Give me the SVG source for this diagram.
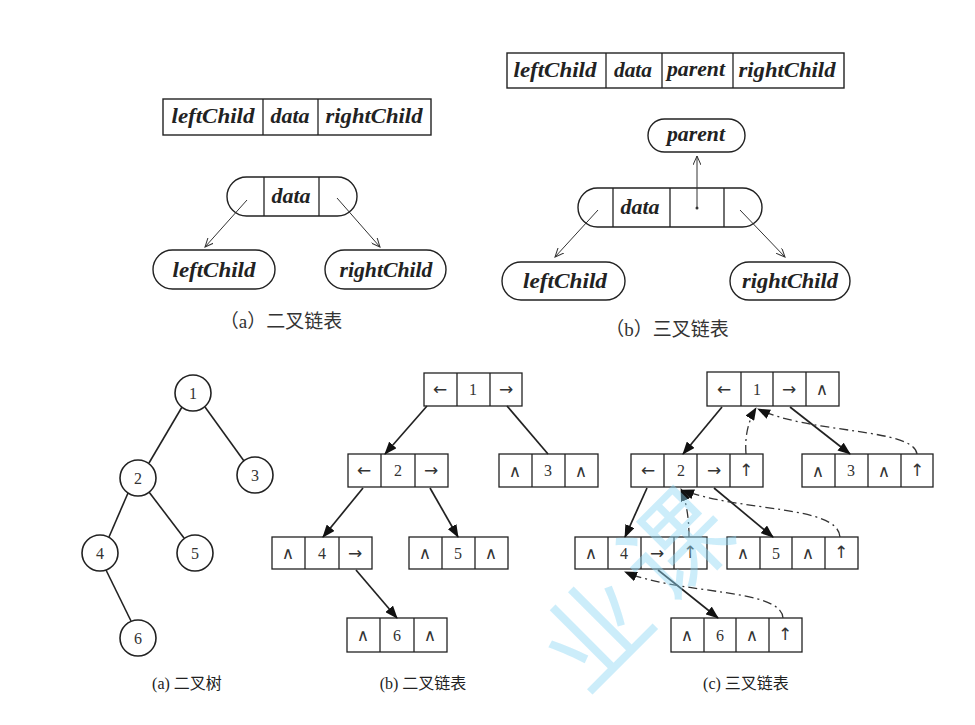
<svg xmlns="http://www.w3.org/2000/svg" width="975" height="725" viewBox="0 0 975 725">
<style>
.bx{fill:#fff;stroke:#222;stroke-width:1.4}
.dv{stroke:#222;stroke-width:1.3}
.it{font-family:"Liberation Serif",serif;font-style:italic;font-weight:bold;font-size:21px;fill:#222;text-anchor:middle}
.cap{font-family:"Liberation Serif","Noto Sans CJK SC",serif;font-size:19px;fill:#333;text-anchor:middle}
.cap2{font-family:"Liberation Serif","Noto Sans CJK SC",serif;font-size:16px;fill:#222;text-anchor:middle}
.cl{fill:#fff;stroke:#222;stroke-width:1.3}
.ct{font-family:"Liberation Serif","DejaVu Sans",serif;font-size:16px;fill:#333;text-anchor:middle}
.sy{font-family:"DejaVu Sans",sans-serif;font-size:17px;fill:#333;text-anchor:middle}
.thin{stroke:#333;stroke-width:1;fill:none}
.ln{stroke:#222;stroke-width:1.7;fill:none}
.dd{stroke:#333;stroke-width:1.3;fill:none;stroke-dasharray:9 4 2 4}
.tr{stroke:#222;stroke-width:1.6;fill:none}
.wm{font-family:"Noto Sans CJK SC",sans-serif;font-size:105px;fill:#8fd6f5;fill-opacity:0.45;text-anchor:middle}
</style>
<defs>
<marker id="oa" markerWidth="10" markerHeight="8" refX="9" refY="4" orient="auto" markerUnits="userSpaceOnUse">
<path d="M0,0 L9,4 L0,8" fill="none" stroke="#333" stroke-width="1"/>
</marker>
<marker id="fa" markerWidth="13" markerHeight="10" refX="12" refY="5" orient="auto" markerUnits="userSpaceOnUse">
<path d="M0,0 L13,5 L0,10 z" fill="#111"/>
</marker>
</defs>

<!-- (a) binary linked node structure -->
<g id="rec-a">
<rect class="bx" x="163" y="99" width="268" height="36"/>
<line class="dv" x1="263" y1="99" x2="263" y2="135"/>
<line class="dv" x1="318" y1="99" x2="318" y2="135"/>
<text class="it" x="213" y="123" textLength="83" lengthAdjust="spacingAndGlyphs">leftChild</text>
<text class="it" x="290" y="123" textLength="39" lengthAdjust="spacingAndGlyphs">data</text>
<text class="it" x="374" y="123" textLength="97" lengthAdjust="spacingAndGlyphs">rightChild</text>
</g>
<g id="node-a">
<rect class="bx" x="227" y="177" width="130" height="39" rx="19.5"/>
<line class="dv" x1="264" y1="177" x2="264" y2="216"/>
<line class="dv" x1="319" y1="177" x2="319" y2="216"/>
<text class="it" x="291" y="203" textLength="39" lengthAdjust="spacingAndGlyphs">data</text>
</g>
<g id="lc-a">
<rect class="bx" x="153" y="250" width="122" height="39" rx="19.5"/>
<text class="it" x="214" y="277" textLength="83" lengthAdjust="spacingAndGlyphs">leftChild</text>
</g>
<g id="rc-a">
<rect class="bx" x="325" y="250" width="121" height="39" rx="19.5"/>
<text class="it" x="386" y="277" textLength="93" lengthAdjust="spacingAndGlyphs">rightChild</text>
</g>
<text class="cap" x="281" y="328">（a）二叉链表</text>

<!-- (b) trinary linked node structure -->
<g id="rec-b">
<rect class="bx" x="507" y="53" width="337" height="35"/>
<line class="dv" x1="606" y1="53" x2="606" y2="88"/>
<line class="dv" x1="662" y1="53" x2="662" y2="88"/>
<line class="dv" x1="733" y1="53" x2="733" y2="88"/>
<text class="it" x="555" y="77" textLength="83" lengthAdjust="spacingAndGlyphs">leftChild</text>
<text class="it" x="633" y="77" textLength="38" lengthAdjust="spacingAndGlyphs">data</text>
<text class="it" x="696" y="76" textLength="58" lengthAdjust="spacingAndGlyphs">parent</text>
<text class="it" x="787" y="77" textLength="97" lengthAdjust="spacingAndGlyphs">rightChild</text>
</g>
<g id="parent-b">
<rect class="bx" x="648" y="119" width="97" height="33" rx="16.5"/>
<text class="it" x="696" y="141" textLength="58" lengthAdjust="spacingAndGlyphs">parent</text>
</g>
<g id="node-b">
<rect class="bx" x="578" y="188" width="184" height="39" rx="19.5"/>
<line class="dv" x1="613" y1="188" x2="613" y2="227"/>
<line class="dv" x1="670" y1="188" x2="670" y2="227"/>
<line class="dv" x1="724" y1="188" x2="724" y2="227"/>
<text class="it" x="640" y="214" textLength="39" lengthAdjust="spacingAndGlyphs">data</text>
<circle cx="697" cy="208" r="1.5" fill="#333"/>
</g>
<g id="lc-b">
<rect class="bx" x="502" y="262" width="123" height="38" rx="19"/>
<text class="it" x="565" y="288" textLength="84" lengthAdjust="spacingAndGlyphs">leftChild</text>
</g>
<g id="rc-b">
<rect class="bx" x="730" y="262" width="120" height="38" rx="19"/>
<text class="it" x="790" y="288" textLength="96" lengthAdjust="spacingAndGlyphs">rightChild</text>
</g>
<text class="cap" x="667" y="336">（b）三叉链表</text>

<g id="connectors-top">
<line class="thin" x1="247" y1="200" x2="205" y2="247" marker-end="url(#oa)"/>
<line class="thin" x1="337" y1="198" x2="380" y2="247" marker-end="url(#oa)"/>
<line class="thin" x1="697" y1="208" x2="697" y2="156" marker-end="url(#oa)"/>
<line class="thin" x1="598" y1="210" x2="555" y2="257" marker-end="url(#oa)"/>
<line class="thin" x1="740" y1="210" x2="785" y2="257" marker-end="url(#oa)"/>
</g>

<!-- (a) binary tree -->
<g id="tree-edges">
<line class="tr" x1="182" y1="407" x2="149" y2="463"/>
<line class="tr" x1="205" y1="407" x2="244" y2="461"/>
<line class="tr" x1="128" y1="493" x2="109" y2="537"/>
<line class="tr" x1="149" y1="492" x2="184" y2="538"/>
<line class="tr" x1="106" y1="570" x2="131" y2="621"/>
</g>
<g id="t1"><circle class="tr" cx="193" cy="393" r="18" fill="#fff"/><text class="ct" x="193" y="399">1</text></g>
<g id="t2"><circle class="tr" cx="138" cy="478" r="18" fill="#fff"/><text class="ct" x="138" y="484">2</text></g>
<g id="t3"><circle class="tr" cx="255" cy="475" r="18" fill="#fff"/><text class="ct" x="255" y="481">3</text></g>
<g id="t4"><circle class="tr" cx="100" cy="553" r="18" fill="#fff"/><text class="ct" x="100" y="559">4</text></g>
<g id="t5"><circle class="tr" cx="195" cy="553" r="18" fill="#fff"/><text class="ct" x="195" y="559">5</text></g>
<g id="t6"><circle class="tr" cx="138" cy="638" r="18" fill="#fff"/><text class="ct" x="138" y="644">6</text></g>
<text class="cap2" x="187" y="689">(a) 二叉树</text>

<!-- (b) binary linked list -->
<g id="b1">
<rect class="cl" x="424" y="373" width="98" height="33"/>
<line class="dv" x1="457" y1="373" x2="457" y2="406"/><line class="dv" x1="490" y1="373" x2="490" y2="406"/>
<text class="sy" x="440" y="395">←</text><text class="ct" x="473" y="395">1</text><text class="sy" x="506" y="395">→</text>
</g>
<g id="b2">
<rect class="cl" x="348" y="454" width="100" height="33"/>
<line class="dv" x1="381" y1="454" x2="381" y2="487"/><line class="dv" x1="415" y1="454" x2="415" y2="487"/>
<text class="sy" x="364" y="476">←</text><text class="ct" x="398" y="476">2</text><text class="sy" x="431" y="476">→</text>
</g>
<g id="b3">
<rect class="cl" x="499" y="454" width="99" height="33"/>
<line class="dv" x1="532" y1="454" x2="532" y2="487"/><line class="dv" x1="565" y1="454" x2="565" y2="487"/>
<text class="sy" x="515" y="477">∧</text><text class="ct" x="548" y="476">3</text><text class="sy" x="581" y="477">∧</text>
</g>
<g id="b4">
<rect class="cl" x="272" y="537" width="100" height="32"/>
<line class="dv" x1="305" y1="537" x2="305" y2="569"/><line class="dv" x1="339" y1="537" x2="339" y2="569"/>
<text class="sy" x="288" y="559">∧</text><text class="ct" x="322" y="559">4</text><text class="sy" x="355" y="559">→</text>
</g>
<g id="b5">
<rect class="cl" x="409" y="537" width="99" height="32"/>
<line class="dv" x1="442" y1="537" x2="442" y2="569"/><line class="dv" x1="475" y1="537" x2="475" y2="569"/>
<text class="sy" x="425" y="559">∧</text><text class="ct" x="458" y="559">5</text><text class="sy" x="491" y="559">∧</text>
</g>
<g id="b6">
<rect class="cl" x="347" y="618" width="100" height="34"/>
<line class="dv" x1="380" y1="618" x2="380" y2="652"/><line class="dv" x1="414" y1="618" x2="414" y2="652"/>
<text class="sy" x="363" y="641">∧</text><text class="ct" x="397" y="641">6</text><text class="sy" x="430" y="641">∧</text>
</g>
<text class="cap2" x="423" y="689">(b) 二叉链表</text>

<!-- (c) trinary linked list -->
<g id="c1">
<rect class="cl" x="707" y="372" width="132" height="34"/>
<line class="dv" x1="741" y1="372" x2="741" y2="406"/><line class="dv" x1="773" y1="372" x2="773" y2="406"/><line class="dv" x1="806" y1="372" x2="806" y2="406"/>
<text class="sy" x="724" y="395">←</text><text class="ct" x="757" y="395">1</text><text class="sy" x="789" y="395">→</text><text class="sy" x="822" y="395">∧</text>
</g>
<g id="c2">
<rect class="cl" x="631" y="454" width="132" height="33"/>
<line class="dv" x1="664" y1="454" x2="664" y2="487"/><line class="dv" x1="697" y1="454" x2="697" y2="487"/><line class="dv" x1="730" y1="454" x2="730" y2="487"/>
<text class="sy" x="648" y="476">←</text><text class="ct" x="681" y="476">2</text><text class="sy" x="714" y="476">→</text><text class="sy" x="746" y="476">↑</text>
</g>
<g id="c3">
<rect class="cl" x="802" y="454" width="131" height="33"/>
<line class="dv" x1="835" y1="454" x2="835" y2="487"/><line class="dv" x1="868" y1="454" x2="868" y2="487"/><line class="dv" x1="901" y1="454" x2="901" y2="487"/>
<text class="sy" x="818" y="477">∧</text><text class="ct" x="851" y="476">3</text><text class="sy" x="884" y="477">∧</text><text class="sy" x="917" y="476">↑</text>
</g>
<g id="c4">
<rect class="cl" x="575" y="537" width="132" height="32"/>
<line class="dv" x1="608" y1="537" x2="608" y2="569"/><line class="dv" x1="641" y1="537" x2="641" y2="569"/><line class="dv" x1="674" y1="537" x2="674" y2="569"/>
<text class="sy" x="591" y="559">∧</text><text class="ct" x="624" y="559">4</text><text class="sy" x="657" y="559">→</text><text class="sy" x="690" y="558">↑</text>
</g>
<g id="c5">
<rect class="cl" x="727" y="537" width="131" height="32"/>
<line class="dv" x1="760" y1="537" x2="760" y2="569"/><line class="dv" x1="792" y1="537" x2="792" y2="569"/><line class="dv" x1="825" y1="537" x2="825" y2="569"/>
<text class="sy" x="743" y="559">∧</text><text class="ct" x="776" y="559">5</text><text class="sy" x="808" y="559">∧</text><text class="sy" x="841" y="558">↑</text>
</g>
<g id="c6">
<rect class="cl" x="671" y="618" width="131" height="34"/>
<line class="dv" x1="704" y1="618" x2="704" y2="652"/><line class="dv" x1="736" y1="618" x2="736" y2="652"/><line class="dv" x1="769" y1="618" x2="769" y2="652"/>
<text class="sy" x="687" y="641">∧</text><text class="ct" x="720" y="641">6</text><text class="sy" x="752" y="641">∧</text><text class="sy" x="785" y="640">↑</text>
</g>
<text class="cap2" x="746" y="689">(c) 三叉链表</text>

<g id="connectors">
<line class="ln" x1="427" y1="406" x2="385" y2="454" marker-end="url(#fa)"/>
<line class="ln" x1="507" y1="406" x2="548" y2="454"/>
<line class="ln" x1="363" y1="488" x2="323" y2="537" marker-end="url(#fa)"/>
<line class="ln" x1="430" y1="488" x2="458" y2="537" marker-end="url(#fa)"/>
<line class="ln" x1="356" y1="570" x2="397" y2="618" marker-end="url(#fa)"/>

<line class="ln" x1="722" y1="407" x2="683" y2="454" marker-end="url(#fa)"/>
<line class="ln" x1="790" y1="407" x2="850" y2="454" marker-end="url(#fa)"/>
<line class="ln" x1="647" y1="488" x2="625" y2="537" marker-end="url(#fa)"/>
<line class="ln" x1="714" y1="488" x2="773" y2="537" marker-end="url(#fa)"/>
<line class="ln" x1="658" y1="570" x2="718" y2="618" marker-end="url(#fa)"/>

<path class="dd" d="M746,454 Q744,428 756,408" marker-end="url(#fa)"/>
<path class="dd" d="M917,454 C914,428 810,434 758,409" marker-end="url(#fa)"/>
<path class="dd" d="M689,537 Q689,508 681,489" marker-end="url(#fa)"/>
<path class="dd" d="M840,537 C838,505 740,512 682,490" marker-end="url(#fa)"/>
<path class="dd" d="M783,618 C781,588 680,595 625,572" marker-end="url(#fa)"/>
</g>

<g id="watermark">
<text class="wm" x="0" y="0" transform="translate(703,573) rotate(-45)">课</text>
<text class="wm" x="0" y="0" transform="translate(623,660) rotate(-45)">业</text>
</g>
</svg>
